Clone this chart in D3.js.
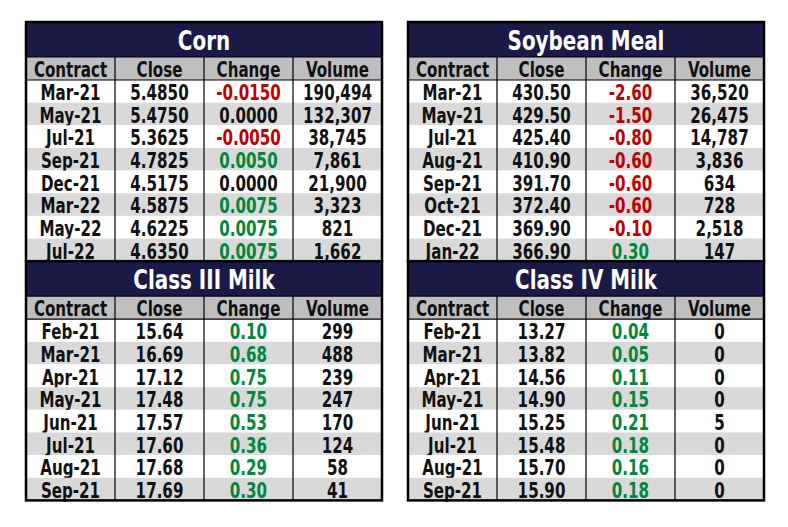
<!DOCTYPE html>
<html>
<head>
<meta charset="utf-8">
<script src="https://d3js.org/d3.v7.min.js"></script>
<style>
  body { margin: 0; background: #fff; }
  svg text { font-family: "DejaVu Sans Condensed", "Liberation Sans Narrow", sans-serif; font-weight: bold; }
</style>
</head>
<body>
<svg id="chart" width="788" height="527"></svg>
<script>
var columns = ["Contract", "Close", "Change", "Volume"];

var corn_contracts = ["Mar-21", "May-21", "Jul-21", "Sep-21", "Dec-21", "Mar-22", "May-22", "Jul-22"];
var corn_close = [5.4850, 5.4750, 5.3625, 4.7825, 4.5175, 4.5875, 4.6225, 4.6350];
var corn_change = [-0.0150, 0.0000, -0.0050, 0.0050, 0.0000, 0.0075, 0.0075, 0.0075];
var corn_volume = [190494, 132307, 38745, 7861, 21900, 3323, 821, 1662];

var meal_contracts = ["Mar-21", "May-21", "Jul-21", "Aug-21", "Sep-21", "Oct-21", "Dec-21", "Jan-22"];
var meal_close = [430.50, 429.50, 425.40, 410.90, 391.70, 372.40, 369.90, 366.90];
var meal_change = [-2.60, -1.50, -0.80, -0.60, -0.60, -0.60, -0.10, 0.30];
var meal_volume = [36520, 26475, 14787, 3836, 634, 728, 2518, 147];

var milk3_contracts = ["Feb-21", "Mar-21", "Apr-21", "May-21", "Jun-21", "Jul-21", "Aug-21", "Sep-21"];
var milk3_close = [15.64, 16.69, 17.12, 17.48, 17.57, 17.60, 17.68, 17.69];
var milk3_change = [0.10, 0.68, 0.75, 0.75, 0.53, 0.36, 0.29, 0.30];
var milk3_volume = [299, 488, 239, 247, 170, 124, 58, 41];

var milk4_contracts = ["Feb-21", "Mar-21", "Apr-21", "May-21", "Jun-21", "Jul-21", "Aug-21", "Sep-21"];
var milk4_close = [13.27, 13.82, 14.56, 14.90, 15.25, 15.48, 15.70, 15.90];
var milk4_change = [0.04, 0.05, 0.11, 0.15, 0.21, 0.18, 0.16, 0.18];
var milk4_volume = [0, 0, 0, 0, 5, 0, 0, 0];

var navy = "#1b1a47", hdrGray = "#bfbfbf", altGray = "#d9d9d9",
    red = "#c00000", green = "#00873c", ink = "#111";

var tableW = 356, titleH = 35, headH = 23, rowH = 22.65;
var squeeze = 0.8;

var locale = d3.formatLocale({ decimal: ".", thousands: ",", grouping: [3], currency: ["", ""], minus: "-" });

var svg = d3.select("#chart");

function draw_table(x, y, title, contracts, close, change, volume, dec) {
  var g = svg.append("g").attr("transform", "translate(" + x + "," + y + ")");
  var fmt = locale.format("." + dec + "f");
  var volFmt = locale.format(",");
  var rows = contracts.map(function(c, i) {
    return { cells: [c, fmt(close[i]), fmt(change[i]), volFmt(volume[i])], chg: change[i] };
  });

  var xs = d3.scaleBand().domain(columns).range([0, tableW]);
  var ys = d3.scaleBand().domain(d3.range(rows.length))
    .range([titleH + headH, titleH + headH + rows.length * rowH]);
  var totalH = titleH + headH + rows.length * rowH;

  // title bar
  g.append("rect").attr("width", tableW).attr("height", titleH).attr("fill", navy);
  g.append("text")
    .attr("transform", "translate(" + (tableW / 2) + "," + (titleH / 2 + 1) + ") scale(0.82,1)")
    .attr("text-anchor", "middle").attr("dominant-baseline", "central")
    .attr("fill", "#fff").attr("font-size", 27)
    .text(title);

  // header row
  g.append("rect").attr("y", titleH).attr("width", tableW).attr("height", headH).attr("fill", hdrGray);
  g.selectAll(".hd").data(columns).enter().append("text")
    .attr("class", "hd")
    .attr("transform", function(d) {
      return "translate(" + (xs(d) + xs.bandwidth() / 2) + "," + (titleH + headH / 2 + 1) + ") scale(" + squeeze + ",1)";
    })
    .attr("text-anchor", "middle").attr("dominant-baseline", "central")
    .attr("fill", ink).attr("font-size", 21)
    .text(function(d) { return d; });

  // data rows
  var r = g.selectAll(".row").data(rows).enter().append("g").attr("class", "row")
    .attr("transform", function(d, i) { return "translate(0," + ys(i) + ")"; });
  r.append("rect").attr("width", tableW).attr("height", ys.bandwidth())
    .attr("fill", function(d, i) { return i % 2 ? altGray : "#fff"; });
  r.selectAll("text").data(function(d) {
      return d.cells.map(function(v, j) { return { v: v, col: columns[j], chg: d.chg }; });
    }).enter().append("text")
    .attr("transform", function(d) {
      return "translate(" + (xs(d.col) + xs.bandwidth() / 2) + "," + (ys.bandwidth() / 2 + 1) + ") scale(" + squeeze + ",1)";
    })
    .attr("text-anchor", "middle").attr("dominant-baseline", "central")
    .attr("font-size", 21)
    .attr("fill", function(d) {
      if (d.col !== "Change") return ink;
      return d.chg < 0 ? red : (d.chg > 0 ? green : ink);
    })
    .text(function(d) { return d.v; });

  // grid lines
  g.selectAll(".vl").data(columns.slice(1)).enter().append("line")
    .attr("x1", function(d) { return xs(d); }).attr("x2", function(d) { return xs(d); })
    .attr("y1", titleH).attr("y2", totalH)
    .attr("stroke", "#000").attr("stroke-width", 1.2);
  [titleH, titleH + headH].forEach(function(yy) {
    g.append("line").attr("x1", 0).attr("x2", tableW).attr("y1", yy).attr("y2", yy)
      .attr("stroke", "#000").attr("stroke-width", 1.2);
  });
  g.append("rect").attr("width", tableW).attr("height", totalH)
    .attr("fill", "none").attr("stroke", "#000").attr("stroke-width", 2.5);
  return totalH;
}

var h1 = draw_table(26, 22, "Corn", corn_contracts, corn_close, corn_change, corn_volume, 4);
draw_table(408, 22, "Soybean Meal", meal_contracts, meal_close, meal_change, meal_volume, 2);
draw_table(26, 22 + h1, "Class III Milk", milk3_contracts, milk3_close, milk3_change, milk3_volume, 2);
draw_table(408, 22 + h1, "Class IV Milk", milk4_contracts, milk4_close, milk4_change, milk4_volume, 2);
</script>
</body>
</html>
